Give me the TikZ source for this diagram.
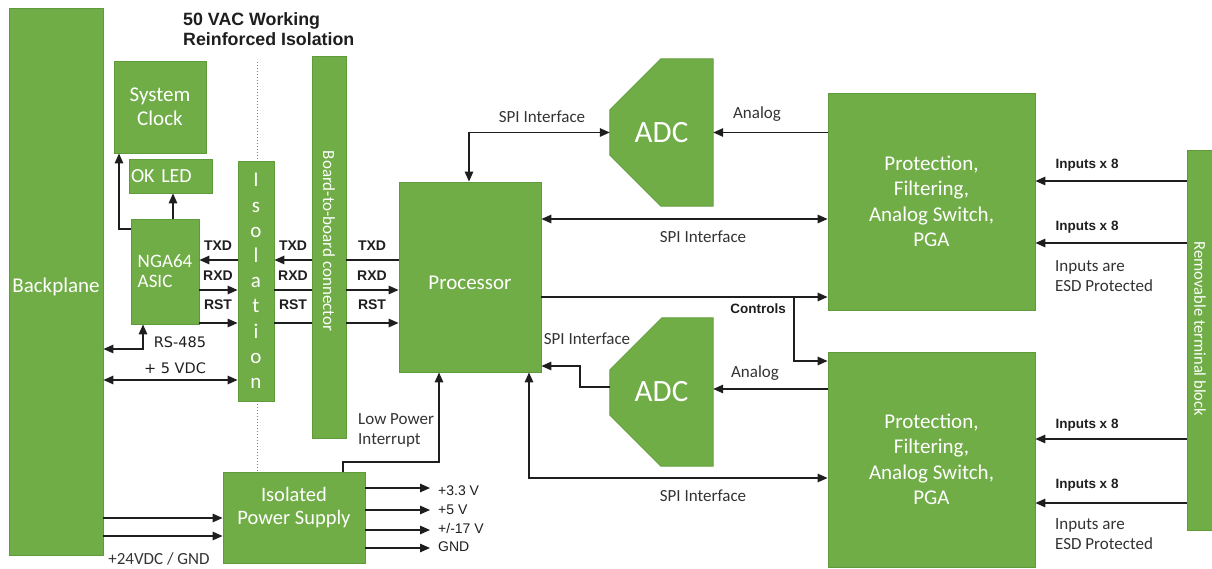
\documentclass[tikz,border=0pt]{standalone}
\usepackage{fontspec}
\setmainfont{Carlito}
\newfontfamily\arialf{Liberation Sans}
\newfontfamily\dvf{DejaVu Sans}
\usetikzlibrary{arrows.meta,backgrounds,calc}
\definecolor{gfill}{HTML}{70AD47}
\definecolor{gline}{HTML}{5E9B3B}
\definecolor{ink}{HTML}{1E1E1E}
\definecolor{labc}{HTML}{333333}
\begin{document}
\begin{tikzpicture}[x=1pt,y=-1pt,
 box/.style={draw=gline, line width=0.8pt, fill=gfill, text=white, inner sep=0pt, align=center, font=\fontsize{21}{25}\selectfont},
 adcn/.style={text=white, inner sep=0pt, font=\fontsize{31}{34}\selectfont},
 adcshape/.style={fill=gfill, draw=gline, line width=0.8pt},
 conn/.style={draw=ink, line width=1.4pt},
 arr/.style={conn, -{Triangle[length=10pt,width=8.5pt]}},
 arrb/.style={conn, {Triangle[length=10pt,width=8.5pt]}-{Triangle[length=10pt,width=8.5pt]}},
 lab/.style={text=labc, font=\fontsize{17}{20}\selectfont, inner sep=0pt, align=left},
 sig/.style={text=ink, font=\arialf\bfseries\fontsize{14}{16}\selectfont, inner sep=0pt},
 sigb/.style={text=ink, font=\arialf\bfseries\fontsize{13.5}{16}\selectfont, inner sep=0pt},
 volt/.style={text=ink, font=\arialf\fontsize{14}{16}\selectfont, inner sep=0pt},
 dvl/.style={text=ink, font=\dvf\fontsize{14.5}{17}\selectfont, inner sep=0pt},
 vtext/.style={rotate=-90, text=white, inner sep=0pt},
 sepline/.style={draw=gray, line width=1pt, dotted}
]
\useasboundingbox (0,0) rectangle (1212,569);

% ---------- boxes ----------
\node[box, minimum width=94pt, minimum height=547pt] (back) at (56,281.5) {\raisebox{-5pt}[\height][\depth]{Backplane}};
\node[box, minimum width=92pt, minimum height=92pt, font=\fontsize{21}{24}\selectfont] (clk) at (160,107) {System\\Clock};
\node[box, minimum height=34pt, text width=79pt, inner xsep=2pt, align=left, font=\fontsize{20}{22}\selectfont] (led) at (170.5,176) {OK LED};
\node[box, minimum width=68pt, minimum height=105pt, align=left, font=\fontsize{19}{20}\selectfont] (nga) at (165,271.5) {NGA64\\ASIC};
\node[box, minimum width=36pt, minimum height=240pt, font=\fontsize{21}{25.2}\selectfont] (iso) at (256,281) {I\\s\\o\\l\\a\\t\\i\\o\\n};
\node[box, minimum width=34pt, minimum height=382pt] (b2b) at (329,247) {};
\node[vtext, font=\fontsize{17}{20}\selectfont] at (329,241) {Board-to-board connector};
\node[box, minimum width=142pt, minimum height=190pt] (proc) at (470,277) {\raisebox{-6pt}[\height][\depth]{Processor}};
\node[adcn, minimum width=103pt, minimum height=147pt] (adc1) at (661.5,132.5) {ADC};
\node[adcn, minimum width=103pt, minimum height=148pt] (adc2) at (661.5,392) {ADC};
\node[box, minimum width=207pt, minimum height=217pt, font=\fontsize{21}{25.5}\selectfont] (pf1) at (931.5,201.5) {Protection,\\Filtering,\\Analog Switch,\\PGA};
\node[box, minimum width=207pt, minimum height=215pt, font=\fontsize{21}{25.5}\selectfont] (pf2) at (931.5,459.5) {Protection,\\Filtering,\\Analog Switch,\\PGA};
\node[box, minimum width=26pt, minimum height=380pt] (term) at (1200,340) {};
\node[vtext, font=\fontsize{16.5}{19}\selectfont] at (1200,329) {Removable terminal block};
\node[box, minimum width=142pt, minimum height=91pt] (psu) at (294,517.5) {};
\node[text=white, align=center, inner sep=0pt, font=\fontsize{20.5}{23}\selectfont] at (294,508) {Isolated\\Power Supply};

\begin{scope}[on background layer]
\draw[sepline] (257,62) -- (psu.north -| 257,0);
\path[adcshape] ($(adc1.north west)+(51,0)$) -- (adc1.north east) -- (adc1.south east) -- ($(adc1.south west)+(51,0)$) -- ($(adc1.south west)+(0,-51)$) -- ($(adc1.north west)+(0,51)$) -- cycle;
\path[adcshape] ($(adc2.north west)+(52,0)$) -- (adc2.north east) -- (adc2.south east) -- ($(adc2.south west)+(51,0)$) -- ($(adc2.south west)+(0,-51)$) -- ($(adc2.north west)+(0,52)$) -- cycle;
\end{scope}

% ---------- title ----------
\node[anchor=west, align=left, inner sep=0pt, text=ink, font=\arialf\bfseries\fontsize{17.8}{20}\selectfont] at (183,29) {50 VAC Working\\Reinforced Isolation};

% ---------- left side connectors ----------
\draw[arr] (nga.west |- 0,229) -| (clk.south -| 119,0);
\draw[arr] (nga.north -| 173,0) -- (led.south -| 173,0);

% TXD
\draw[conn] (proc.west |- 0,260) -- (b2b.east |- 0,260);
\draw[arr] (b2b.west |- 0,260) -- (iso.east |- 0,260);
\draw[arr] (iso.west |- 0,260) -- (nga.east |- 0,260);
% RXD
\draw[arr] (nga.east |- 0,290) -- (iso.west |- 0,290);
\draw[conn] (iso.east |- 0,290) -- (b2b.west |- 0,290);
\draw[arr] (b2b.east |- 0,290) -- (proc.west |- 0,290);
% RST
\draw[arr] (nga.east |- 0,323) -- (iso.west |- 0,323);
\draw[conn] (iso.east |- 0,323) -- (b2b.west |- 0,323);
\draw[arr] (b2b.east |- 0,323) -- (proc.west |- 0,323);

\foreach \xx in {218,293,372}{
  \node[sig] at (\xx,246) {TXD};
  \node[sig] at (\xx,276) {RXD};
  \node[sig] at (\xx,305) {RST};
}

\draw[arrb] (back.east |- 0,349) -| (nga.south -| 143,0);
\node[dvl] at (180,342) {RS-485};
\draw[arrb] (back.east |- 0,380) -- (iso.west |- 0,380);
\node[dvl] at (175,368) {+ 5 VDC};

% power supply
\draw[arr] (back.east |- 0,518) -- (psu.west |- 0,518);
\draw[arr] (back.east |- 0,536) -- (psu.west |- 0,536);
\node[lab] at (159,559) {+24VDC / GND};
\coordinate (o1) at (430,488);
\coordinate (o2) at (430,510);
\coordinate (o3) at (430,530);
\coordinate (o4) at (430,548);
\draw[arr] (psu.east |- o1) -- (o1);
\draw[arr] (psu.east |- o2) -- (o2);
\draw[arr] (psu.east |- o3) -- (o3);
\draw[arr] (psu.east |- o4) -- (o4);
\node[volt, anchor=west] at (438,491) {+3.3 V};
\node[volt, anchor=west] at (438,510) {+5 V};
\node[volt, anchor=west] at (438,528) {+/-17 V};
\node[volt, anchor=west] at (438,547) {GND};

\draw[arr] (psu.north -| 343,0) -- (343,462) -| (proc.south -| 439,0);
\node[lab, anchor=west] at (358,430) {Low Power\\Interrupt};

% ---------- processor / ADC ----------
\draw[arrb] (proc.north -| 469,0) |- (adc1.west);
\node[lab] at (542,117) {SPI Interface};
\draw[arr] (pf1.west |- adc1.east) -- (adc1.east);
\node[lab] at (757,114) {Analog};

\draw[arrb] (proc.east |- 0,219) -- (pf1.west |- 0,219);
\node[lab] at (703,237) {SPI Interface};

\coordinate (ctl) at (794,297);
\draw[arr] (proc.east |- ctl) -- (pf1.west |- ctl);
\draw[arr] (ctl) |- (pf2.west |- 0,361);
\node[sigb] at (758,309) {Controls};

\draw[arr] (adc2.west |- 0,387) -- (580,387) -- (580,366) -- (proc.east |- 0,366);
\node[lab] at (587,339) {SPI Interface};
\draw[arr] (pf2.west |- 0,389) -- (adc2.east |- 0,389);
\node[lab] at (755,373) {Analog};

\draw[arrb] (proc.south -| 529,0) |- (pf2.west |- 0,478);
\node[lab] at (703,496) {SPI Interface};

% ---------- inputs ----------
\foreach \yy in {181,243}{ \draw[arr] (term.west |- 0,\yy) -- (pf1.east |- 0,\yy); }
\foreach \yy in {439,503}{ \draw[arr] (term.west |- 0,\yy) -- (pf2.east |- 0,\yy); }
\foreach \yy in {165,227,425,485}{ \node[sigb] at (1087,\yy) {Inputs x 8}; }
\node[lab, anchor=west] at (1055,276) {Inputs are\\ESD Protected};
\node[lab, anchor=west] at (1055,534) {Inputs are\\ESD Protected};
\end{tikzpicture}
\end{document}
